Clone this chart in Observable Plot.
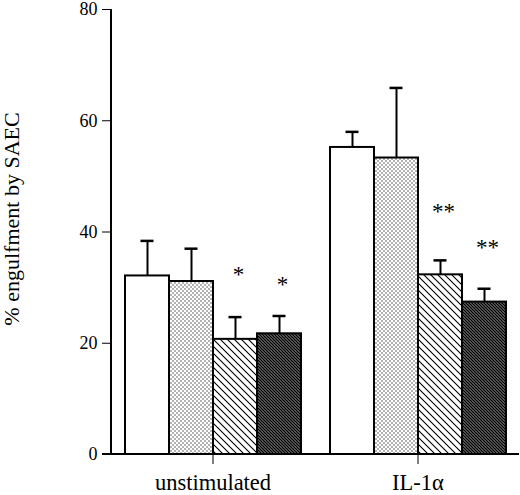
<!DOCTYPE html>
<html>
<head>
<meta charset="utf-8">
<script src="https://cdn.jsdelivr.net/npm/d3@7"></script>
<script src="https://cdn.jsdelivr.net/npm/@observablehq/plot@0.6"></script>
<style>
  html, body { margin: 0; padding: 0; background: white; }
</style>
</head>
<body>
<div id="chart"></div>
<script>
const groups = ["unstimulated", "IL-1α"];
const treatments = ["open", "stipple", "hatch", "dense"];
const meansUnstim = [32.1, 31.1, 20.7, 21.7];
const meansIL = [55.2, 53.3, 32.3, 27.4];
const errUnstim = [6.3, 5.9, 4.0, 3.2];
const errIL = [2.8, 12.6, 2.6, 2.4];
const sigUnstim = ["", "", "*", "*"];
const sigIL = ["", "", "**", "**"];
const sigYUnstim = [null, null, 33.0, 31.3];
const sigYIL = [null, null, 44.3, 38.0];
const yTicks = [0, 20, 40, 60, 80];
const fills = ["white", "url(#pat-dots)", "url(#pat-hatch)", "url(#pat-dense)"];
const yLabel = "% engulfment by SAEC";

const data = [];
treatments.forEach((t, i) => data.push({group: groups[0], treat: t, value: meansUnstim[i], err: errUnstim[i], sig: sigUnstim[i], sigY: sigYUnstim[i]}));
treatments.forEach((t, i) => data.push({group: groups[1], treat: t, value: meansIL[i], err: errIL[i], sig: sigIL[i], sigY: sigYIL[i]}));

const marginLeft = 111;
const chart = Plot.plot({
  width: 520,
  height: 495,
  marginLeft,
  marginRight: 1,
  marginTop: 9,
  marginBottom: 41,
  style: {fontFamily: "'Liberation Serif', 'Times New Roman', serif", fontSize: "18px", color: "black", background: "white"},
  fx: {domain: groups, paddingInner: 0.01, paddingOuter: 0, axis: null},
  x: {domain: treatments, paddingInner: 0, paddingOuter: 0.256, axis: null},
  y: {domain: [0, 80], axis: null},
  color: {domain: treatments, range: fills},
  marks: [
    Plot.rectY(data, {fx: "group", x: "treat", y: "value", fill: "treat", stroke: "black", strokeWidth: 2}),
    Plot.ruleX(data, {fx: "group", x: "treat", y1: "value", y2: d => d.value + d.err, stroke: "black", strokeWidth: 2}),
    Plot.tickY(data, {fx: "group", x: "treat", y: d => d.value + d.err, stroke: "black", strokeWidth: 2.5, insetLeft: 15.5, insetRight: 15.5}),
    Plot.text(data.filter(d => d.sig), {fx: "group", x: "treat", y: "sigY", text: "sig", fontSize: 23, dx: 3, dy: 4}),
    Plot.axisY({ticks: yTicks, tickSize: 9, tickPadding: 5, fontSize: 18, label: null}),
    Plot.axisFx({anchor: "bottom", tickSize: 10, tickPadding: 10, fontSize: 22.5, label: null}),
    Plot.text([yLabel], {fx: [groups[0]], text: d => d, frameAnchor: "left", textAnchor: "middle", rotate: -90, dx: -100, dy: -13, fontSize: 22})
  ]
});

const svg = d3.select(chart);
const defs = svg.insert("defs", ":first-child");
// stipple
const pd = defs.append("pattern").attr("id", "pat-dots").attr("patternUnits", "userSpaceOnUse").attr("width", 4).attr("height", 4);
pd.append("rect").attr("width", 4).attr("height", 4).attr("fill", "white");
pd.append("circle").attr("cx", 1).attr("cy", 1).attr("r", 0.65).attr("fill", "#222");
pd.append("circle").attr("cx", 3).attr("cy", 3).attr("r", 0.65).attr("fill", "#222");
// sparse hatch
const ph = defs.append("pattern").attr("id", "pat-hatch").attr("patternUnits", "userSpaceOnUse").attr("width", 7).attr("height", 7);
ph.append("rect").attr("width", 7).attr("height", 7).attr("fill", "white");
ph.append("path").attr("d", "M0,0L7,7M-1,6L1,8M6,-1L8,1").attr("stroke", "black").attr("stroke-width", 1.1);
// dense hatch
const pk = defs.append("pattern").attr("id", "pat-dense").attr("patternUnits", "userSpaceOnUse").attr("width", 3).attr("height", 3);
pk.append("rect").attr("width", 3).attr("height", 3).attr("fill", "white");
pk.append("path").attr("d", "M0,0L3,3M-1,2L1,4M2,-1L4,1").attr("stroke", "black").attr("stroke-width", 1.6);

// axis lines from the y scale
const ys = chart.scale("y");
svg.append("line")
  .attr("x1", marginLeft).attr("x2", marginLeft)
  .attr("y1", ys.apply(80)).attr("y2", ys.apply(0))
  .attr("stroke", "black").attr("stroke-width", 2);
svg.append("line")
  .attr("x1", marginLeft - 9).attr("x2", 519)
  .attr("y1", ys.apply(0)).attr("y2", ys.apply(0))
  .attr("stroke", "black").attr("stroke-width", 2);

document.getElementById("chart").appendChild(chart);
</script>
</body>
</html>
